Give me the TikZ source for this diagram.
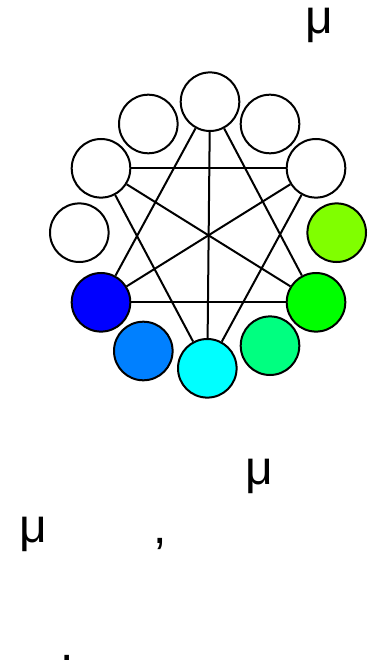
\documentclass[tikz,border=0pt]{standalone}
\usepackage{fontspec}
\setmainfont{Liberation Sans}
\begin{document}
\begin{tikzpicture}[x=1pt,y=-1pt,
  vtx/.style={circle,draw=black,line width=2pt,minimum size=58.6pt,inner sep=0pt},
  edge/.style={draw=black,line width=2pt},
  lbl/.style={anchor=base west,inner sep=0pt,font=\fontsize{48}{58}\selectfont}]
\useasboundingbox (0,0) rectangle (372,660);
\definecolor{cLime}{RGB}{128,255,0}
\definecolor{cGreen}{RGB}{0,255,0}
\definecolor{cSpring}{RGB}{0,255,128}
\definecolor{cCyan}{RGB}{0,255,255}
\definecolor{cAzure}{RGB}{0,128,255}
\definecolor{cBlue}{RGB}{0,0,255}
\coordinate (pT) at (210,101.7);
\coordinate (pTR) at (270,124);
\coordinate (pRU) at (316,168.3);
\coordinate (pR) at (336.7,232.7);
\coordinate (pG) at (316,302.3);
\coordinate (pLR) at (270,345.7);
\coordinate (pB) at (207.3,368.3);
\coordinate (pBL) at (143.3,351);
\coordinate (pBl) at (101,302.3);
\coordinate (pL) at (79.3,232.7);
\coordinate (pLU) at (101,168.3);
\coordinate (pTL) at (148.3,124);
\node[vtx,fill=white] (T) at (pT) {};
\node[vtx,fill=white] (TR) at (pTR) {};
\node[vtx,fill=white] (RU) at (pRU) {};
\node[vtx,fill=cLime] (R) at (pR) {};
\node[vtx,fill=cGreen] (G) at (pG) {};
\node[vtx,fill=cSpring] (LR) at (pLR) {};
\node[vtx,fill=cCyan] (B) at (pB) {};
\node[vtx,fill=cAzure] (BL) at (pBL) {};
\node[vtx,fill=cBlue] (Bl) at (pBl) {};
\node[vtx,fill=white] (L) at (pL) {};
\node[vtx,fill=white] (LU) at (pLU) {};
\node[vtx,fill=white] (TL) at (pTL) {};
\draw[edge] (T) -- (B);
\draw[edge] (LU) -- (RU);
\draw[edge] (Bl) -- (G);
\draw[edge] (T) -- (Bl);
\draw[edge] (T) -- (G);
\draw[edge] (LU) -- (G);
\draw[edge] (LU) -- (B);
\draw[edge] (RU) -- (Bl);
\draw[edge] (RU) -- (B);
\node[lbl] (m1) at (305,34) {μ};
\node[lbl] (m2) at (245,484) {μ};
\node[lbl] (m3) at (19,542) {μ};
\node[lbl] (cm) at (153,543) {,};
\node[lbl] (pd) at (60.6,660) {.};
\end{tikzpicture}
\end{document}
